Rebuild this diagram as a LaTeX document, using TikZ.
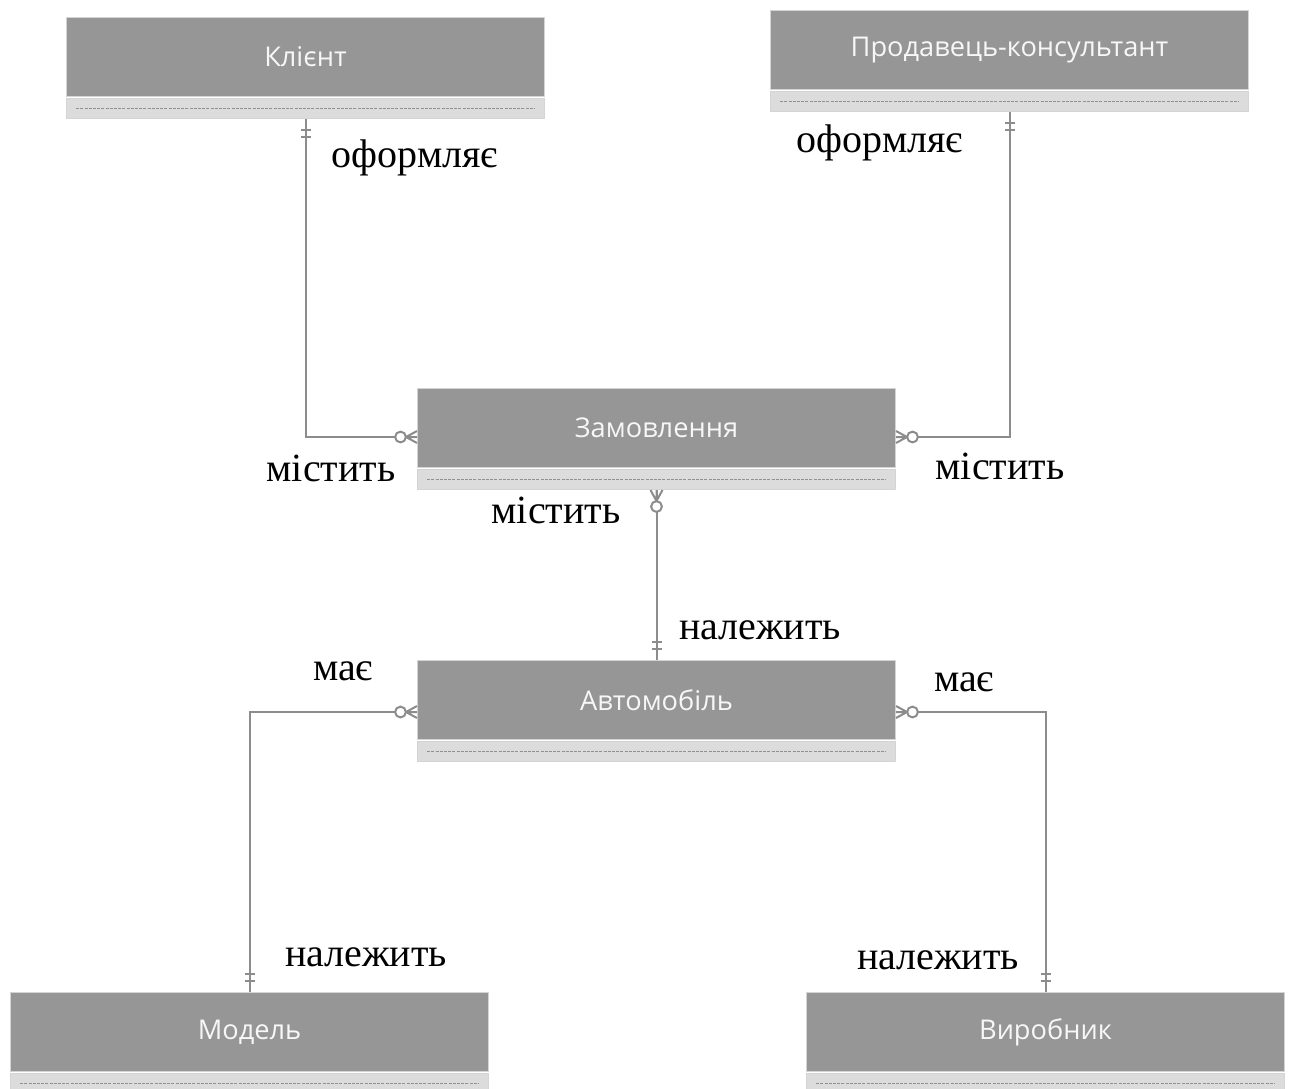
\documentclass[tikz,border=0pt]{standalone}
\usepackage{fontspec}
\setmainfont{Liberation Serif}
\newfontfamily\headfont{Open Sans}
\usetikzlibrary{calc}
\definecolor{hdr}{RGB}{150,150,150}
\definecolor{hdrline}{RGB}{212,212,212}
\definecolor{stripfill}{RGB}{220,220,220}
\definecolor{stripdash}{RGB}{145,145,145}
\definecolor{link}{RGB}{140,140,140}

\tikzset{
  x=0.5pt, y=-0.5pt,
  ehead/.style={draw=hdrline, line width=0.5pt, fill=hdr, minimum width=239pt,
    minimum height=39.5pt, inner sep=0, anchor=north west, text=white!94!gray,
    font=\headfont\fontsize{13.6}{15}\selectfont},
  estrip/.style={draw=hdrline, line width=0.4pt, fill=stripfill, minimum width=239pt,
    minimum height=10pt, inner sep=0, anchor=north},
  rel/.style={draw=link, line width=1pt},
  lbl/.style={font=\fontsize{20}{22}\selectfont, inner sep=0},
  % zero or many: circle and crow's foot, entity side at the origin
  pics/zmany/.style={code={
    \draw[rel] (0,-6) -- (11,0) -- (0,6) (0,0) -- (11,0);
    \draw[rel, fill=white] (16.5,0) circle[radius=2.7pt];}},
  % one and only one: two bars across the line
  pics/oneone/.style={code={
    \draw[rel] (11,-5) -- (11,5) (18,-5) -- (18,5);}},
}

% entity: header with title and attribute strip below
\newcommand\erentity[4]{%
  \node[ehead] (#1) at (#2,#3) {#4};
  \node[estrip] (#1-s) at ([yshift=-0.6pt]#1.south) {};
  \draw[stripdash, line width=0.8pt, dash pattern=on 1.5pt off 0.6pt]
    ([xshift=5pt]#1-s.west) -- ([xshift=-5pt]#1-s.east);}

\begin{document}
\begin{tikzpicture}
\useasboundingbox[fill=white] (0,0) rectangle (1289,1088);

\erentity{klient}{66}{17}{Клієнт}
\erentity{prod}{770}{10}{Продавець-консультант}
\erentity{zam}{417}{388}{Замовлення}
\erentity{avto}{417}{660}{Автомобіль}
\erentity{model}{10}{992}{Модель}
\erentity{vyrob}{806}{992}{Виробник}

% relationships
\draw[rel] (klient-s.south) |- ([yshift=-4.5pt]zam.west);
\draw[rel] (prod-s.south) |- ([yshift=-4.5pt]zam.east);
\draw[rel] (zam-s.south) -- (avto.north);
\draw[rel] ([yshift=-6pt]avto.west) -| (model.north);
\draw[rel] ([yshift=-6pt]avto.east) -| (vyrob.north);

% cardinality marks
\pic[rotate=-90] at (klient-s.south) {oneone};
\pic[rotate=-90] at (prod-s.south) {oneone};
\pic[rotate=180] at ([yshift=-4.5pt]zam.west) {zmany};
\pic at ([yshift=-4.5pt]zam.east) {zmany};
\pic[rotate=-90] at (zam-s.south) {zmany};
\pic[rotate=90] at (avto.north) {oneone};
\pic[rotate=180] at ([yshift=-6pt]avto.west) {zmany};
\pic at ([yshift=-6pt]avto.east) {zmany};
\pic[rotate=90] at (model.north) {oneone};
\pic[rotate=90] at (vyrob.north) {oneone};

% relationship labels
\node[lbl] (l1) at (415,158) {оформляє};
\node[lbl] (l2) at (880,143) {оформляє};
\node[lbl] (l3) at (331,468) {містить};
\node[lbl] (l4) at (1000,466) {містить};
\node[lbl] (l5) at (556,510) {містить};
\node[lbl] (l6) at (760,630) {належить};
\node[lbl] (l7) at (343,671) {має};
\node[lbl] (l8) at (964,682) {має};
\node[lbl] (l9) at (366,957) {належить};
\node[lbl] (l10) at (938,960) {належить};
\end{tikzpicture}
\end{document}
